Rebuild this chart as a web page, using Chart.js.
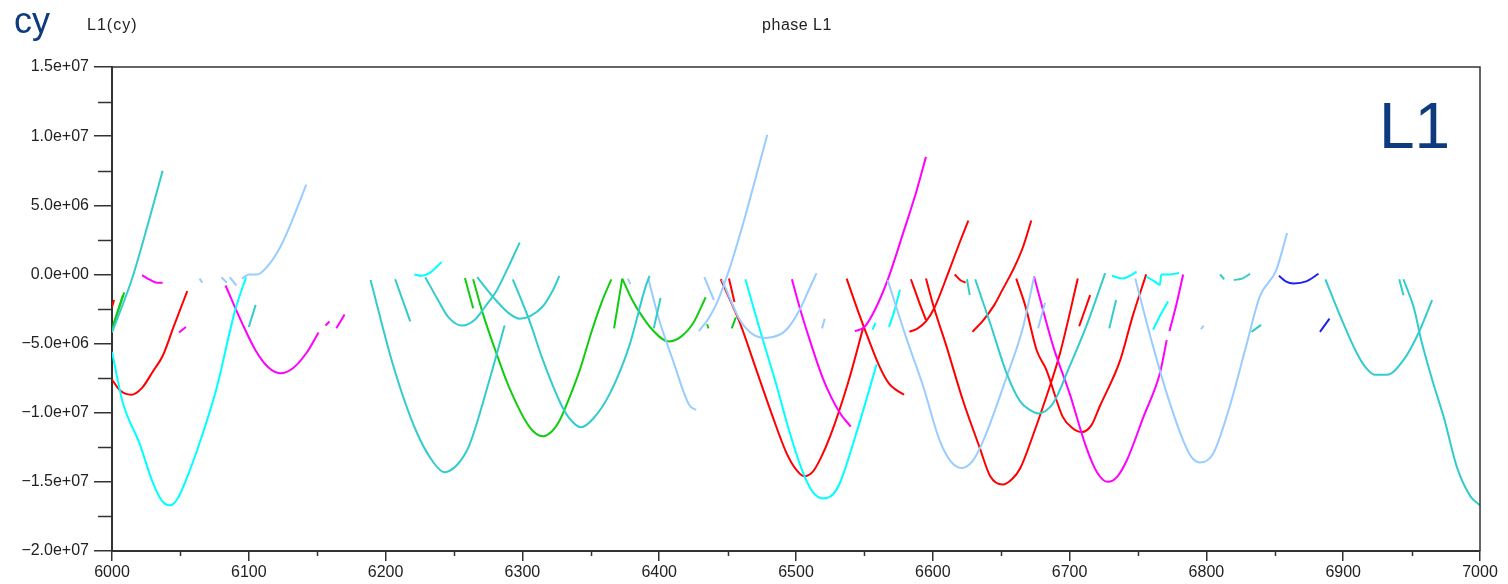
<!DOCTYPE html>
<html>
<head>
<meta charset="utf-8">
<script src="https://cdn.jsdelivr.net/npm/chart.js@4"></script>
<style>
  body { margin: 0; background: #fff; }
  canvas { display: block; }
</style>
</head>
<body>
<canvas id="phaseChart" width="1508" height="584"></canvas>
<script>
// values in units of 1e6 cycles
const xTickValues = [6000, 6100, 6200, 6300, 6400, 6500, 6600, 6700, 6800, 6900, 7000];
const xTickLabels = ['6000', '6100', '6200', '6300', '6400', '6500', '6600', '6700', '6800', '6900', '7000'];
const xMinorTicks = [6050, 6150, 6250, 6350, 6450, 6550, 6650, 6750, 6850, 6950];
const yTickValues = [15, 10, 5, 0, -5, -10, -15, -20];
const yTickLabels = ['1.5e+07', '1.0e+07', '5.0e+06', '0.0e+00', '\u22125.0e+06', '\u22121.0e+07', '\u22121.5e+07', '\u22122.0e+07'];
const yMinorTicks = [12.5, 7.5, 2.5, -2.5, -7.5, -12.5, -17.5];

// turquoise arcs
const tealArcs = [
  [[6000, -4.2], [6015, -0.2], [6027, 3.9], [6037, 7.5]],
  [[6100, -3.8], [6105, -2.2]],
  [[6189, -0.4], [6205, -6.4], [6222, -11.25], [6235, -13.6], [6243, -14.3], [6252, -13.8], [6261, -12.4], [6276, -7.6], [6287, -3.7]],
  [[6207, -0.35], [6218, -3.4]],
  [[6229, -0.2], [6238, -1.8], [6246, -3.1], [6256, -3.7], [6265, -3.3], [6273, -2.3], [6281, -1.2], [6290, 0.6], [6298, 2.3]],
  [[6267, -0.2], [6275, -1.2], [6281, -1.9], [6290, -2.8], [6298, -3.2], [6306, -3.0], [6315, -2.3], [6322, -1.2], [6327, -0.1]],
  [[6293, -0.35], [6305, -3.3], [6315, -6.2], [6329, -9.55], [6336, -10.6], [6343, -11.05], [6352, -10.4], [6364, -8.6], [6378, -5.2], [6390, -0.9], [6393, -0.1]],
  [[6396, -3.9], [6401, -1.7]],
  [[6625, -0.35], [6627, -1.5]],
  [[6631, -0.35], [6642, -3.55], [6654, -7.15], [6664, -9.2], [6671, -9.8], [6677, -10.05], [6688, -9.3], [6700, -6.65], [6712, -3.8], [6726, 0.1]],
  [[6729, -3.9], [6734, -1.85]],
  [[6810, 0.0], [6813, -0.35]],
  [[6820, -0.4], [6826, -0.3], [6832, 0.05]],
  [[6833, -4.15], [6840, -3.65]],
  [[6887, -0.35], [6898, -3.05], [6910, -5.7], [6917, -6.8], [6923, -7.25], [6932, -7.25], [6944, -6.2], [6955, -4.25], [6965, -1.85]],
  [[6941, -0.35], [6944, -1.5]],
  [[6944, -0.35], [6952, -2.55], [6957, -4.75], [6965, -7.6], [6974, -10.5], [6983, -13.9], [6993, -16.05], [7000, -16.7]]
];

// bright cyan arcs
const cyanArcs = [
  [[6000, -5.6], [6008, -9.3], [6020, -12.2], [6030, -15.1], [6036, -16.3], [6042, -16.7], [6048, -16.2], [6059, -13.6], [6068, -11.0], [6076, -8.4], [6090, -2.6], [6098, -0.2]],
  [[6221, 0.0], [6226, -0.1], [6232, 0.1], [6241, 0.9]],
  [[6463, -0.35], [6473, -3.8], [6486, -8.1], [6495, -11.3], [6505, -14.3], [6512, -15.7], [6520, -16.2], [6527, -15.9], [6532, -15.1], [6544, -11.5], [6559, -6.5]],
  [[6556, -4.0], [6558, -3.5]],
  [[6568, -3.8], [6572, -2.6], [6576, -1.1]],
  [[6731, -0.1], [6739, -0.3], [6744, -0.1], [6749, 0.2]],
  [[6756, -0.15], [6762, -0.5], [6766, -0.75], [6767, 0.0], [6773, 0.0], [6780, 0.1]],
  [[6761, -4.0], [6766, -3.0], [6772, -1.95]]
];

// light blue arcs
const skyArcs = [
  [[6064, -0.3], [6066, -0.6]],
  [[6080, -0.2], [6084, -0.6]],
  [[6086, -0.2], [6091, -0.8]],
  [[6095, -0.3], [6100, 0.0], [6106, 0.0], [6112, 0.4], [6122, 1.8], [6130, 3.5], [6142, 6.5]],
  [[6377, -0.3], [6379, -0.7]],
  [[6392, -0.3], [6400, -3.3], [6410, -6.2], [6422, -9.45], [6427, -9.8]],
  [[6429, -4.1], [6436, -3.2], [6442, -2.1], [6451, 0.3], [6462, 3.9], [6470, 6.8], [6479, 10.1]],
  [[6433, -0.2], [6440, -1.85]],
  [[6446, -0.4], [6459, -3.3], [6468, -4.3], [6478, -4.6], [6487, -4.4], [6493, -4.0], [6503, -2.5], [6509, -1.2], [6515, 0.1]],
  [[6519, -3.9], [6521, -3.2]],
  [[6567, -0.4], [6581, -4.7], [6593, -8.1], [6605, -12.0], [6613, -13.5], [6621, -14.0], [6629, -13.5], [6637, -12.0], [6654, -7.4], [6666, -3.8], [6674, -0.2]],
  [[6677, -3.9], [6682, -2.05]],
  [[6748, -0.3], [6761, -5.2], [6771, -8.6], [6783, -12.0], [6789, -13.2], [6795, -13.6], [6805, -12.95], [6817, -9.55], [6829, -5.2], [6839, -1.6], [6851, 0.3], [6859, 3.0]],
  [[6796, -3.95], [6798, -3.7]]
];

// magenta arcs
const magentaArcs = [
  [[6022, -0.05], [6028, -0.4], [6033, -0.6], [6037, -0.6]],
  [[6049, -4.2], [6054, -3.8]],
  [[6083, -0.8], [6095, -3.5], [6105, -5.5], [6114, -6.7], [6123, -7.15], [6132, -6.8], [6142, -5.7], [6151, -4.2]],
  [[6156, -3.7], [6159, -3.4]],
  [[6164, -3.9], [6170, -2.9]],
  [[6497, -0.35], [6503, -2.5], [6507, -3.8], [6520, -7.6], [6532, -10.0], [6540, -11.0]],
  [[6543, -4.1], [6550, -3.8], [6558, -2.5], [6567, -0.4], [6579, 3.2], [6588, 6.0], [6595, 8.5]],
  [[6674, -0.15], [6688, -5.2], [6700, -8.6], [6712, -12.45], [6720, -14.3], [6728, -15.0], [6735, -14.6], [6742, -13.4], [6754, -10.3], [6766, -7.15], [6771, -4.75]],
  [[6773, -4.1], [6778, -2.2], [6783, 0.0]]
];

// red arcs
const redArcs = [
  [[6000, -2.35], [6001.5, -1.85]],
  [[6000, -7.6], [6006, -8.4], [6014, -8.7], [6022, -8.2], [6030, -7.0], [6037, -5.9], [6045, -3.8], [6055, -1.2]],
  [[6445, -0.35], [6452, -1.9], [6459, -3.5], [6471, -6.9], [6483, -10.3], [6493, -12.9], [6500, -14.1], [6506, -14.6], [6512, -14.3], [6518, -13.3], [6525, -11.7], [6538, -7.85], [6549, -3.9]],
  [[6451, -0.3], [6455, -2.0]],
  [[6537, -0.3], [6543, -2.0], [6550, -3.9], [6561, -6.65], [6568, -7.9], [6574, -8.4], [6579, -8.7]],
  [[6583, -4.15], [6589, -3.9], [6595, -3.4], [6601, -2.45], [6612, 0.3], [6620, 2.4], [6626, 3.9]],
  [[6584, -0.35], [6590, -2.0], [6595, -3.3]],
  [[6595, -0.3], [6601, -2.45], [6610, -5.2], [6622, -9.1], [6634, -12.45], [6642, -14.6], [6651, -15.2], [6658, -14.8], [6664, -14.0], [6673, -11.7], [6683, -8.85], [6693, -5.7], [6706, -0.3]],
  [[6616, 0.0], [6620, -0.4], [6624, -0.6]],
  [[6629, -4.15], [6637, -3.3], [6645, -2.2], [6651, -1.1], [6660, 0.6], [6666, 2.0], [6672, 3.9]],
  [[6661, -0.3], [6668, -2.4], [6676, -5.5], [6683, -6.9], [6695, -10.3], [6702, -11.1], [6709, -11.4], [6716, -10.9], [6722, -9.55], [6737, -6.2], [6746, -3.05], [6756, 0.0]],
  [[6707, -3.75], [6715, -1.5]]
];

// green arcs
const greenArcs = [
  [[6000, -4.0], [6008, -1.5]],
  [[6001, -3.6], [6009, -1.3]],
  [[6258, -0.25], [6264, -2.45]],
  [[6264, -0.35], [6271, -2.8], [6281, -5.7], [6290, -8.1], [6305, -11.0], [6315, -11.7], [6322, -11.3], [6327, -10.6], [6334, -9.0], [6342, -6.9], [6351, -4.0], [6358, -2.0], [6365, -0.35]],
  [[6367, -3.9], [6373, -0.3]],
  [[6373, -0.3], [6380, -1.8], [6386, -2.8], [6395, -4.0], [6407, -4.85], [6416, -4.5], [6425, -3.5], [6434, -1.65]],
  [[6435, -3.6], [6436, -3.9]],
  [[6453, -3.9], [6456, -3.1]]
];

// blue arcs
const blueArcs = [
  [[6853, -0.1], [6858, -0.5], [6864, -0.65], [6873, -0.5], [6882, 0.05]],
  [[6883, -4.15], [6890, -3.2]]
];

const arcGroups = [
  { arcs: tealArcs, color: '#33cccc' },
  { arcs: skyArcs, color: '#99ccff' },
  { arcs: cyanArcs, color: '#00ffff' },
  { arcs: greenArcs, color: '#11cc11' },
  { arcs: magentaArcs, color: '#ff00ff' },
  { arcs: redArcs, color: '#ff0000' },
  { arcs: blueArcs, color: '#2222ee' }
];

const datasets = [];
arcGroups.forEach(g => {
  g.arcs.forEach(arc => {
    datasets.push({
      data: arc.map(p => ({ x: p[0], y: p[1] })),
      borderColor: g.color,
      borderWidth: 2,
      pointRadius: 0,
      fill: false,
      cubicInterpolationMode: 'monotone'
    });
  });
});

const axisColor = '#333';
const tickFont = { family: '"Liberation Sans", Arial, sans-serif', size: 16 };

// frame, minor ticks and the header texts
const decor = {
  id: 'decor',
  afterDraw(chart) {
    const { ctx, chartArea: a, scales } = chart;
    ctx.save();
    ctx.strokeStyle = axisColor;
    ctx.lineWidth = 1.5;
    ctx.beginPath();
    ctx.moveTo(a.left, a.top);
    ctx.lineTo(a.right, a.top);
    ctx.lineTo(a.right, a.bottom);
    ctx.stroke();

    ctx.beginPath();
    yMinorTicks.forEach(v => {
      const py = Math.round(scales.y.getPixelForValue(v)) + 0.5;
      ctx.moveTo(a.left - 14, py);
      ctx.lineTo(a.left, py);
    });
    xMinorTicks.forEach(v => {
      const px = Math.round(scales.x.getPixelForValue(v)) + 0.5;
      ctx.moveTo(px, a.bottom);
      ctx.lineTo(px, a.bottom + 5);
    });
    ctx.stroke();

    ctx.fillStyle = '#0e3b7d';
    ctx.textBaseline = 'alphabetic';
    ctx.textAlign = 'left';
    ctx.font = '36px "Liberation Sans", Arial, sans-serif';
    ctx.fillText('cy', 14, 33);
    ctx.font = '64px "Liberation Sans", Arial, sans-serif';
    ctx.fillText('L1', 1379, 148);

    ctx.fillStyle = '#222';
    ctx.textBaseline = 'middle';
    ctx.font = '16px "Liberation Sans", Arial, sans-serif';
    ctx.letterSpacing = '1px';
    ctx.fillText('L1(cy)', 87, 26);
    ctx.letterSpacing = '0.5px';
    ctx.textAlign = 'center';
    ctx.fillText('phase L1', 797, 26);
    ctx.restore();
  }
};

new Chart(document.getElementById('phaseChart').getContext('2d'), {
  type: 'line',
  data: { datasets: datasets },
  options: {
    responsive: false,
    animation: false,
    layout: { padding: { top: 67, right: 28, left: 0, bottom: 0 } },
    plugins: {
      legend: { display: false },
      tooltip: { enabled: false }
    },
    scales: {
      x: {
        type: 'linear',
        min: 6000,
        max: 7000,
        afterBuildTicks: s => { s.ticks = xTickValues.map(v => ({ value: v })); },
        afterFit: s => { s.height = 33; },
        ticks: {
          callback: v => xTickLabels[xTickValues.indexOf(v)],
          font: tickFont,
          color: '#222',
          padding: 2,
          maxRotation: 0,
          autoSkip: false
        },
        grid: { drawOnChartArea: false, tickLength: 10, color: axisColor, lineWidth: 1.5 },
        border: { color: axisColor, width: 2 }
      },
      y: {
        type: 'linear',
        min: -20,
        max: 15,
        afterBuildTicks: s => { s.ticks = yTickValues.map(v => ({ value: v })); },
        afterFit: s => { s.width = 112; },
        ticks: {
          callback: v => yTickLabels[yTickValues.indexOf(v)],
          font: tickFont,
          color: '#222',
          padding: 5,
          autoSkip: false
        },
        grid: { drawOnChartArea: false, tickLength: 18, color: axisColor, lineWidth: 1.5 },
        border: { color: axisColor, width: 2 }
      }
    }
  },
  plugins: [decor]
});
</script>
</body>
</html>
